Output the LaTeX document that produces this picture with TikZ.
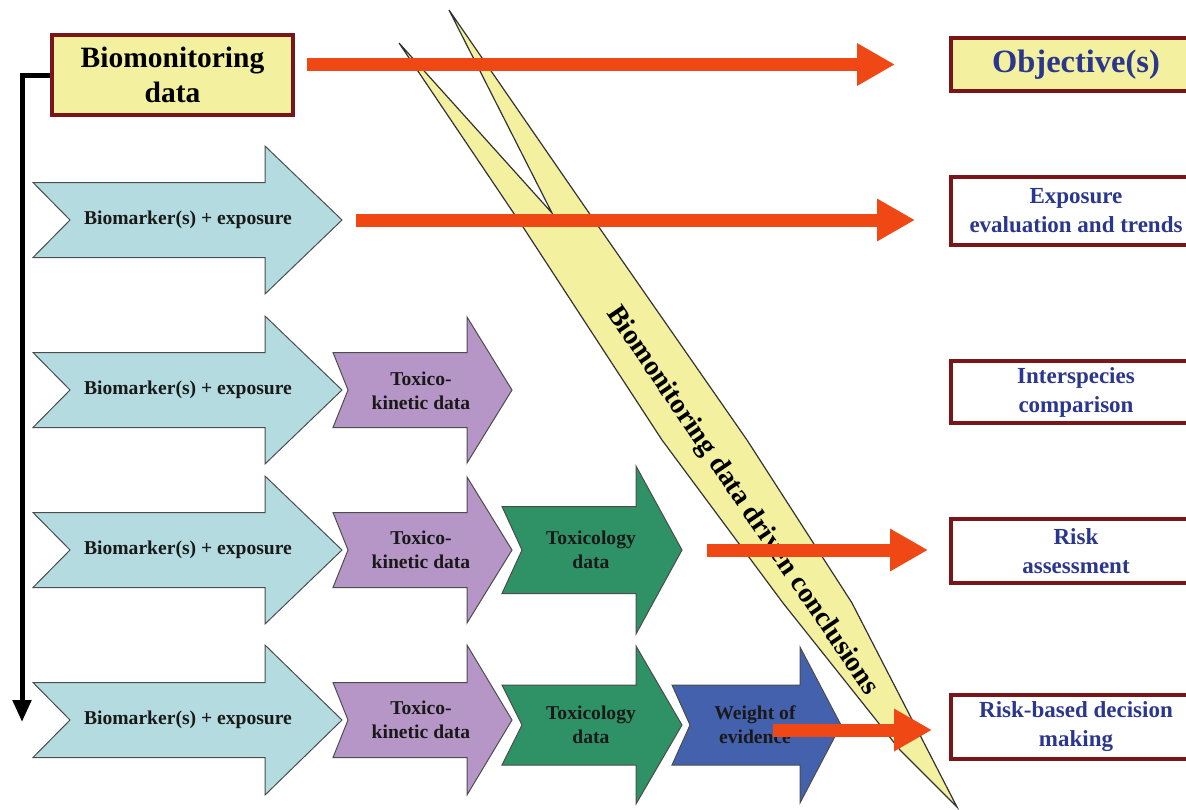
\documentclass[tikz,border=0pt]{standalone}
\usepackage{fontspec}
\setmainfont{Liberation Serif}
\usepackage{xcolor}
\usepackage{tikz}
\usetikzlibrary{arrows.meta,calc}

\definecolor{boxred}{RGB}{122,22,26}
\definecolor{paleyel}{RGB}{243,241,160}
\definecolor{arrred}{RGB}{240,72,20}
\definecolor{bmblue}{RGB}{180,220,224}
\definecolor{tkpurp}{RGB}{181,150,198}
\definecolor{txgreen}{RGB}{46,146,102}
\definecolor{weblue}{RGB}{67,97,172}
\definecolor{objnavy}{RGB}{43,55,140}

% style, left x, centre y, notch depth, shaft end x, tip x, half body, half head
\newcommand{\chevarrow}[8]{%
  \draw[#1] (#2,#3-#7) -- (#5,#3-#7) -- (#5,#3-#8) -- (#6,#3) -- (#5,#3+#8)
    -- (#5,#3+#7) -- (#2,#3+#7) -- (#2+#4,#3) -- cycle;}

\begin{document}
\begin{tikzpicture}[x=1pt, y=-1pt,
    databox/.style={draw=boxred, line width=4pt, fill=paleyel, align=center, inner sep=0pt,
        font=\fontsize{29.5}{35}\selectfont\bfseries},
    objbox/.style={draw=boxred, line width=4pt, fill=white, align=center, inner sep=0pt,
        minimum width=250pt, text=objnavy, font=\fontsize{23}{29}\selectfont\bfseries},
    band/.style={draw=black!80, line width=1.2pt, fill=paleyel, line join=miter},
    bm/.style={draw=black!70, line width=1pt, fill=bmblue},
    tk/.style={draw=black!70, line width=1pt, fill=tkpurp},
    tx/.style={draw=black!70, line width=1pt, fill=txgreen},
    we/.style={draw=black!70, line width=1pt, fill=weblue},
    lbl/.style={align=center, inner sep=0pt, text=black!90, font=\fontsize{19.6}{24}\selectfont\bfseries},
    redarr/.style={draw=arrred, line width=13pt, -{Triangle[length=38pt, width=40pt]}},
    linkarr/.style={draw=black, line width=5pt, -{Triangle[length=22pt, width=18pt]}},
]
    \clip (0,0) rectangle (1186,809);
    \useasboundingbox (0,0) rectangle (1186,809);

    % conclusions band
    \draw[band] (399,43) -- (523,227) -- (662,440) -- (783,603) -- (900,750) -- (957,807)
        -- (852,603) -- (747,440) -- (587,210) -- (449,10) -- (552,213) -- cycle;
    \node[rotate=-55.8, inner sep=0pt, font=\fontsize{28}{30}\selectfont\bfseries] (concl)
        at (742,501) {Biomonitoring data driven conclusions};

    % data arrows
    \chevarrow{bm}{33}{220}{37}{265}{342}{37.5}{74}
    \chevarrow{bm}{33}{390}{37}{265}{342}{37.5}{74}
    \chevarrow{bm}{33}{550}{37}{265}{342}{37.5}{74}
    \chevarrow{bm}{33}{720}{37}{265}{342}{37.5}{75}
    \chevarrow{tk}{333}{390}{15}{467}{512}{37.5}{73}
    \chevarrow{tk}{333}{550}{15}{467}{512}{37.5}{73}
    \chevarrow{tk}{333}{720}{15}{467}{512}{37.5}{75}
    \chevarrow{tx}{502}{550}{20}{636}{682}{43.5}{84}
    \chevarrow{tx}{502}{725}{20}{636}{682}{40}{79}
    \chevarrow{we}{672}{725}{18}{800}{841}{40}{78}

    \node[lbl] (bm1) at (188,220) {Biomarker(s) + exposure};
    \node[lbl] (bm2) at (188,390) {Biomarker(s) + exposure};
    \node[lbl] (bm3) at (188,550) {Biomarker(s) + exposure};
    \node[lbl] (bm4) at (188,720) {Biomarker(s) + exposure};
    \node[lbl] (tk2) at (421,391) {Toxico-\\kinetic data};
    \node[lbl] (tk3) at (421,550) {Toxico-\\kinetic data};
    \node[lbl] (tk4) at (421,720) {Toxico-\\kinetic data};
    \node[lbl] (tx3) at (591,550) {Toxicology\\data};
    \node[lbl] (tx4) at (591,725) {Toxicology\\data};
    \node[lbl] (we4) at (755,725) {Weight of\\evidence};

    % boxes
    \node[databox, minimum width=241pt, minimum height=80pt] (bio) at (172.5,75) {Biomonitoring\\data};
    \node[objbox, fill=paleyel, minimum height=53pt, font=\fontsize{32.5}{36}\selectfont\bfseries]
        (obj) at (1076,64.5) {Objective(s)};
    \node[objbox, minimum height=68pt] (expo)  at (1076,211) {Exposure\\evaluation and trends};
    \node[objbox, minimum height=62pt] (inter) at (1076,392) {Interspecies\\comparison};
    \node[objbox, minimum height=64pt] (risk)  at (1076,551) {Risk\\assessment};
    \node[objbox, minimum height=64pt] (decis) at (1076,727) {Risk-based decision\\making};

    \coordinate (bend) at (22,722);
    \draw[linkarr] (bio.west) -| (bend);

    \coordinate (s2) at (356,220);
    \coordinate (s3) at (707,550);
    \coordinate (s4) at (773,730);
    \draw[redarr] ($(bio.east |- obj.west)+(12,0)$) -- ($(obj.west)+(-54,0)$);
    \draw[redarr] (s2) -- ($(s2 -| expo.west)+(-34,0)$);
    \draw[redarr] (s3) -- ($(s3 -| risk.west)+(-21,0)$);
    \draw[redarr] (s4) -- ($(s4 -| decis.west)+(-17,0)$);
\end{tikzpicture}
\end{document}
